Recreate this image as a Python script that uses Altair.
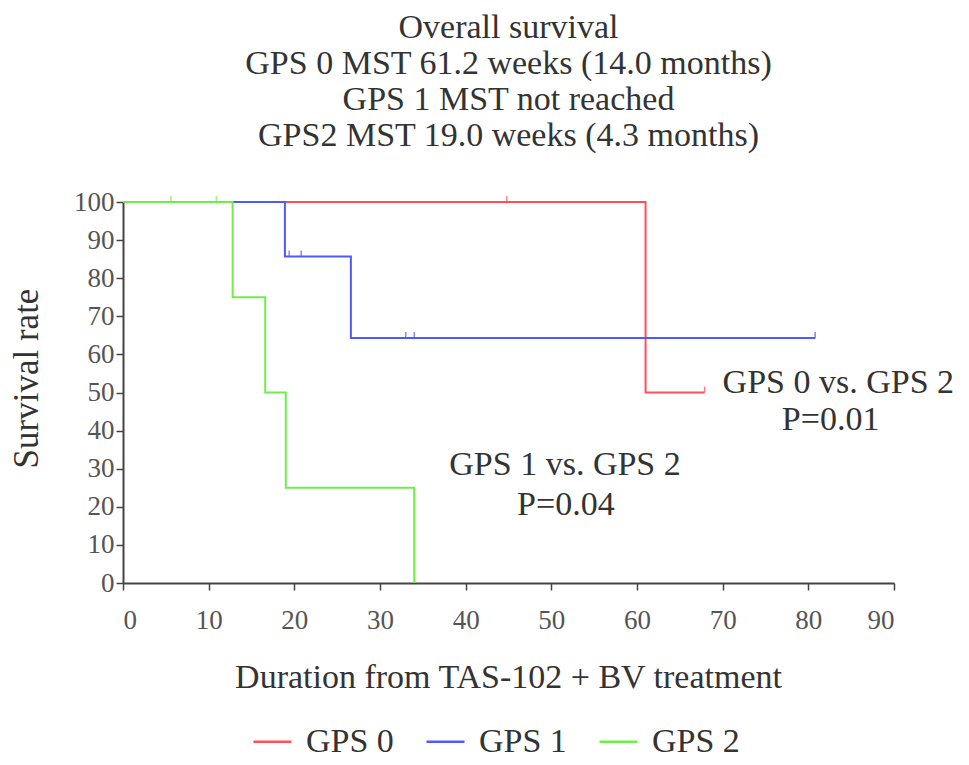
"""Kaplan-Meier overall survival by GPS group, Altair version."""

import pandas as pd
import altair as alt

FONT = 'Liberation Serif'

# step points of each survival curve (weeks, %)
gps0_time = [0, 61.0, 67.9]
gps0_surv = [100, 50, 50]
gps1_time = [0, 18.9, 26.6, 80.8]
gps1_surv = [100, 85.7, 64.3, 64.3]
gps2_time = [0, 12.8, 16.6, 19.0, 34.0]
gps2_surv = [100, 75, 50, 25, 0]

# censored observations
gps0_cens_time = [44.8, 67.9]
gps0_cens_surv = [100, 50]
gps1_cens_time = [19.4, 20.8, 33.0, 34.0, 80.8]
gps1_cens_surv = [85.7, 85.7, 64.3, 64.3, 64.3]
gps2_cens_time = [5.6, 10.9]
gps2_cens_surv = [100, 100]

groups = ['GPS 0', 'GPS 1', 'GPS 2']
colors = ['#ff5058', '#5058ff', '#70ee48']

# p-value annotations
note_text = ['GPS 0 vs. GPS 2', 'P=0.01', 'GPS 1 vs. GPS 2', 'P=0.04']
note_x = [83.5, 82.6, 51.6, 51.7]
note_y = [52.5, 42.8, 31.0, 20.5]

x_ticks = [0, 10, 20, 30, 40, 50, 60, 70, 80, 90]
y_ticks = [0, 10, 20, 30, 40, 50, 60, 70, 80, 90, 100]

title_lines = [
    'Overall survival',
    'GPS 0 MST 61.2 weeks (14.0 months)',
    'GPS 1 MST not reached',
    'GPS2 MST 19.0 weeks (4.3 months)',
]


def frame(name, times, survs):
    return pd.DataFrame({'group': name, 'time': times, 'surv': survs,
                         'order': range(len(times))})


curves = pd.concat([
    frame('GPS 0', gps0_time, gps0_surv),
    frame('GPS 1', gps1_time, gps1_surv),
    frame('GPS 2', gps2_time, gps2_surv),
])
cens = pd.concat([
    frame('GPS 0', gps0_cens_time, gps0_cens_surv),
    frame('GPS 1', gps1_cens_time, gps1_cens_surv),
    frame('GPS 2', gps2_cens_time, gps2_cens_surv),
])
notes = pd.DataFrame({'text': note_text, 'time': note_x, 'surv': note_y})

color_scale = alt.Scale(domain=groups, range=colors)

x_enc = alt.X(
    'time:Q', scale=alt.Scale(domain=[0, 90], nice=False),
    title='Duration from TAS-102 + BV treatment',
    axis=alt.Axis(values=x_ticks, labelOverlap=False,
                  titleX=385, titleY=94, titleBaseline='middle'),
)
y_enc = alt.Y(
    'surv:Q', scale=alt.Scale(domain=[0, 100], nice=False),
    title='Survival rate',
    axis=alt.Axis(values=y_ticks, tickCount=11, labelOverlap=False,
                  titleX=-97, titleY=176, titleAngle=-90,
                  titleAlign='center', titleBaseline='middle',
                  titleFontSize=35),
)

lines = (
    alt.Chart(curves)
    .mark_line(interpolate='step-after', strokeWidth=2)
    .encode(
        x=x_enc,
        y=y_enc,
        color=alt.Color(
            'group:N', scale=color_scale,
            legend=alt.Legend(
                title=None, orient='none', direction='horizontal',
                legendX=129, legendY=519,
                symbolType='stroke', symbolStrokeWidth=2.5, symbolSize=1444,
                labelFont=FONT, labelFontSize=34, labelColor='#333',
                labelOffset=13, columnPadding=27, padding=0,
            ),
        ),
        detail='group:N',
        order='order:Q',
    )
)

ticks = (
    alt.Chart(cens)
    .mark_tick(orient='vertical', size=6, thickness=1.5, yOffset=-3)
    .encode(x=x_enc, y=y_enc,
            color=alt.Color('group:N', legend=None, scale=color_scale))
)

labels = (
    alt.Chart(notes)
    .mark_text(font=FONT, fontSize=34, color='#333', align='center', baseline='middle')
    .encode(x=x_enc, y=y_enc, text='text:N')
)

chart = (
    alt.layer(lines, ticks, labels)
    .properties(
        width=771, height=381,
        autosize=alt.AutoSizeParams(type='none'),
        padding={'left': 115, 'top': 194, 'right': 60, 'bottom': 180},
        title=alt.TitleParams(
            text=title_lines, font=FONT, fontSize=34, fontWeight='normal',
            color='#333', lineHeight=36, anchor='middle', offset=35,
        ),
    )
    .configure_view(stroke=None)
    .configure_axis(
        grid=False, domainColor='#444', domainWidth=2, tickColor='#444',
        tickSize=7, tickWidth=1.5,
        labelFont=FONT, labelFontSize=27, labelColor='#555',
        titleFont=FONT, titleFontSize=34, titleFontWeight='normal', titleColor='#333',
    )
    .configure_axisX(labelPadding=17)
    .configure_axisY(labelPadding=2)
)

chart.save('out.html', embed_options={'renderer': 'svg', 'actions': False})
